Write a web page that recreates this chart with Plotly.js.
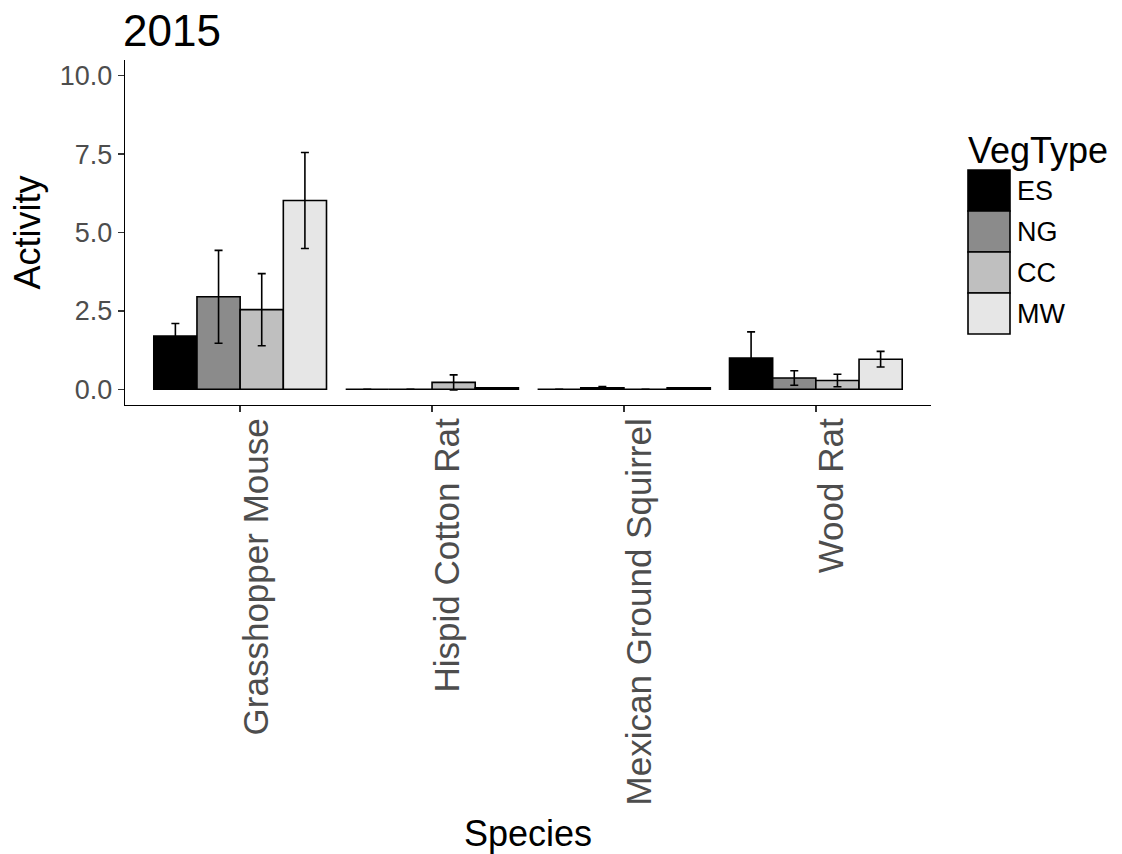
<!DOCTYPE html>
<html>
<head>
<meta charset="utf-8">
<script src="https://cdn.plot.ly/plotly-3.0.1.min.js"></script>
<style>html,body{margin:0;padding:0;background:#fff;}#chart{width:1122px;height:854px;}</style>
</head>
<body>
<div id="chart"></div>
<script>
// ---- data ----
var species = ["Grasshopper Mouse", "Hispid Cotton Rat", "Mexican Ground Squirrel", "Wood Rat"];
var vegTypes = ["ES", "NG", "CC", "MW"];
var valuesES = [1.70, 0.00, 0.00, 1.00];
var valuesNG = [2.95, 0.00, 0.05, 0.36];
var valuesCC = [2.54, 0.22, 0.00, 0.28];
var valuesMW = [6.02, 0.05, 0.05, 0.96];
var errES = [0.40, 0.00, 0.00, 0.83];
var errNG = [1.48, 0.00, 0.04, 0.23];
var errCC = [1.15, 0.24, 0.00, 0.20];
var errMW = [1.53, 0.00, 0.00, 0.25];
var yTicks = [0, 2.5, 5, 7.5, 10];

// ---- styling ----
var fills = ["#000000", "#8B8B8B", "#BFBFBF", "#E6E6E6"];
var allVals = [valuesES, valuesNG, valuesCC, valuesMW];
var allErr = [errES, errNG, errCC, errMW];

var W = 1122, H = 854;
var M = {l: 125, r: 191, t: 60, b: 449};
var plotW = W - M.l - M.r, plotH = H - M.t - M.b;
function px2x(px) { return (px - M.l) / plotW; }
function px2y(py) { return (H - M.b - py) / plotH; }

var traces = vegTypes.map(function (v, i) {
  return {
    type: "bar",
    name: v,
    x: species,
    y: allVals[i],
    marker: {color: fills[i], line: {color: "#000000", width: 1.6}},
    error_y: {type: "data", array: allErr[i], visible: true, color: "#000000", thickness: 1.6, width: 4},
    showlegend: false,
    hoverinfo: "x+y+name"
  };
});

// custom legend (ggplot-like large keys)
var shapes = [], annotations = [];
var keyX0 = 968, keyX1 = 1010, keyTop = 170, keyH = 41;
vegTypes.forEach(function (v, i) {
  var y0 = keyTop + i * keyH, y1 = y0 + keyH;
  shapes.push({type: "rect", xref: "paper", yref: "paper",
    x0: px2x(keyX0), x1: px2x(keyX1), y0: px2y(y1), y1: px2y(y0),
    fillcolor: fills[i], line: {color: "#000000", width: 1.6}});
  annotations.push({xref: "paper", yref: "paper", x: px2x(keyX1 + 5), y: px2y((y0 + y1) / 2),
    xanchor: "left", yanchor: "middle", text: v, showarrow: false,
    font: {family: "Liberation Sans, Arial, sans-serif", size: 27, color: "#000000"}});
});
annotations.push({xref: "paper", yref: "paper", x: px2x(966), y: px2y(150),
  xanchor: "left", yanchor: "middle", text: "VegType", showarrow: false,
  font: {family: "Liberation Sans, Arial, sans-serif", size: 36, color: "#000000"}});

var layout = {
  width: W, height: H,
  margin: M,
  paper_bgcolor: "#ffffff",
  plot_bgcolor: "#ffffff",
  font: {family: "Liberation Sans, Arial, sans-serif", color: "#000000"},
  title: {text: "2015", xref: "container", x: 123 / W, xanchor: "left",
    yref: "container", y: 1 - 31 / H, yanchor: "middle",
    font: {size: 44, color: "#000000"}},
  barmode: "group",
  bargap: 0.1,
  bargroupgap: 0,
  showlegend: false,
  xaxis: {
    type: "category",
    range: [-0.6, 3.6],
    showline: true, linecolor: "#000000", linewidth: 1.3,
    ticks: "outside", ticklen: 6, tickwidth: 1.3, tickcolor: "#333333",
    showgrid: false, zeroline: false,
    tickangle: -90,
    ticklabelshift: 16,
    ticklabelstandoff: -8,
    tickfont: {size: 35, color: "#4d4d4d"},
    title: {text: "Species", font: {size: 36, color: "#000000"}, standoff: 20},
    automargin: false
  },
  yaxis: {
    range: [-0.5, 10.5],
    tickvals: yTicks,
    tickformat: ".1f",
    showline: true, linecolor: "#000000", linewidth: 1.3,
    ticks: "outside", ticklen: 6, tickwidth: 1.3, tickcolor: "#333333",
    showgrid: false, zeroline: false,
    tickfont: {size: 27, color: "#4d4d4d"},
    title: {text: "Activity", font: {size: 36, color: "#000000"}, standoff: 8},
    automargin: false
  },
  shapes: shapes,
  annotations: annotations
};

Plotly.newPlot("chart", traces, layout, {displayModeBar: false, staticPlot: true});
</script>
</body>
</html>
